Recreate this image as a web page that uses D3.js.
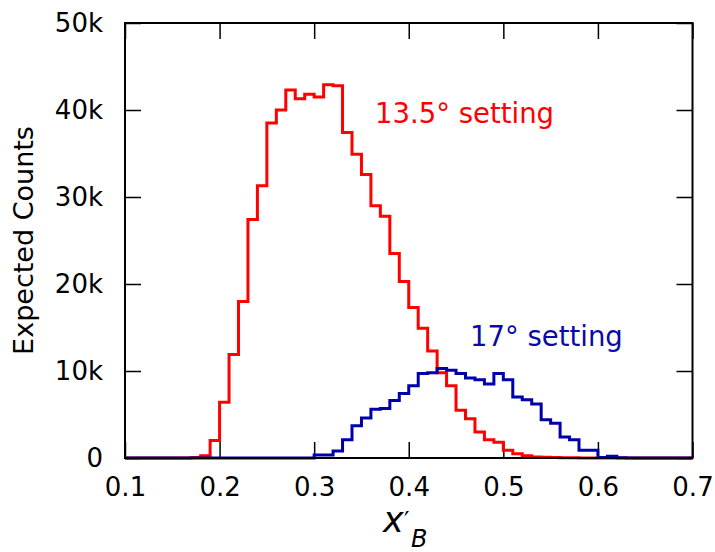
<!DOCTYPE html>
<html>
<head>
<meta charset="utf-8">
<script src="https://cdn.jsdelivr.net/npm/d3@7"></script>
<style>
    body { margin: 0; background: #fff; }
    svg { display: block; }
</style>
</head>
<body>
<div id="chart"></div>
<script>
// histogram bins: 60 bins of width 0.01 starting at x'_B = 0.1
const bin_start = 0.1
const bin_width = 0.01

// 13.5 degree setting, counts per bin
const counts_13_5 = [
    0, 0, 0, 0, 0, 0, 0, 50, 250, 2000,
    6400, 11900, 18000, 27400, 31300, 38500, 40000, 42300, 41300, 41800,
    41500, 42900, 42800, 37400, 34900, 32600, 29000, 27800, 23500, 20300,
    17300, 14900, 12300, 9800, 8300, 5500, 4500, 3000, 2100, 1800,
    900, 500, 250, 120, 80, 50, 30, 20, 10, 0,
    0, 0, 0, 0, 0, 0, 0, 0, 0, 0
]

// 17 degree setting, counts per bin
const counts_17 = [
    0, 0, 0, 0, 0, 0, 0, 0, 0, 0,
    0, 0, 0, 0, 0, 0, 0, 0, 0, 0,
    350, 350, 800, 2100, 3700, 4600, 5600, 5700, 6600, 7400,
    8300, 9700, 9800, 10300, 10100, 9700, 9200, 9000, 8500, 9700,
    9000, 7000, 6700, 6200, 4400, 4000, 2400, 2100, 900, 900,
    50, 200, 20, 0, 0, 0, 0, 0, 0, 0
]

const x_ticks = [0.1, 0.2, 0.3, 0.4, 0.5, 0.6, 0.7]
const y_ticks = [0, 10000, 20000, 30000, 40000, 50000]

const series_labels = ["13.5° setting", "17° setting"]

function build_chart() {
    const width = 715
    const height = 552
    const left = 125, right = 692.5, top = 23, bottom = 458
    const tick_len = 16

    const svg = d3.select("#chart")
        .append("svg")
        .attr("width", width)
        .attr("height", height)
        .attr("font-family", "'DejaVu Sans', sans-serif")

    const x = d3.scaleLinear().domain([0.1, 0.7]).range([left, right])
    const y = d3.scaleLinear().domain([0, 50000]).range([bottom, top])

    // bottom axis with labels, ticks pointing inside
    const x_axis = svg.append("g")
        .attr("transform", `translate(0, ${bottom})`)
        .call(d3.axisBottom(x).tickValues(x_ticks).tickSize(-tick_len).tickPadding(19.5).tickFormat(d3.format(".1f")))
    const y_axis = svg.append("g")
        .attr("transform", `translate(${left}, 0)`)
        .call(d3.axisLeft(y).tickValues(y_ticks).tickSize(-tick_len).tickPadding(22)
            .tickFormat(d => d == 0 ? "0" : (d / 1000) + "k"))
    // mirrored ticks on top and right
    const x_axis_top = svg.append("g")
        .attr("transform", `translate(0, ${top})`)
        .call(d3.axisTop(x).tickValues(x_ticks).tickSize(-tick_len).tickFormat(""))
    const y_axis_right = svg.append("g")
        .attr("transform", `translate(${right}, 0)`)
        .call(d3.axisRight(y).tickValues(y_ticks).tickSize(-tick_len).tickFormat(""))

    for (let ax of [x_axis, y_axis, x_axis_top, y_axis_right]) {
        ax.select(".domain").remove()
        ax.selectAll(".tick line").attr("stroke", "#000").attr("stroke-width", 1.5)
        ax.selectAll(".tick text")
            .attr("font-family", "'DejaVu Sans', sans-serif")
            .attr("font-size", 26)
            .attr("fill", "#000")
    }

    // step outlines
    function step_points(counts) {
        const pts = counts.map((c, i) => [bin_start + i * bin_width, c])
        pts.push([bin_start + counts.length * bin_width, counts[counts.length - 1]])
        return pts
    }
    const step_line = d3.line()
        .x(d => x(d[0]))
        .y(d => y(d[1]))
        .curve(d3.curveStepAfter)

    svg.append("path")
        .attr("d", step_line(step_points(counts_13_5)))
        .attr("fill", "none")
        .attr("stroke", "#ff0000")
        .attr("stroke-width", 3)
    svg.append("path")
        .attr("d", step_line(step_points(counts_17)))
        .attr("fill", "none")
        .attr("stroke", "#0000aa")
        .attr("stroke-width", 3)

    // frame
    svg.append("rect")
        .attr("x", left)
        .attr("y", top)
        .attr("width", right - left)
        .attr("height", bottom - top)
        .attr("fill", "none")
        .attr("stroke", "#000")
        .attr("stroke-width", 2)

    // series labels
    svg.append("text")
        .attr("x", 375)
        .attr("y", 123)
        .attr("font-size", 27.5)
        .attr("fill", "#ff0000")
        .text(series_labels[0])
    svg.append("text")
        .attr("x", 470)
        .attr("y", 346)
        .attr("font-size", 27.5)
        .attr("fill", "#0a0aa8")
        .text(series_labels[1])

    // axis titles
    svg.append("text")
        .attr("transform", `translate(33, ${(top + bottom) / 2}) rotate(-90)`)
        .attr("text-anchor", "middle")
        .attr("font-size", 27)
        .attr("fill", "#000")
        .text("Expected Counts")

    // x'_B: italic x, prime, subscript B set side by side
    const x_title = svg.append("text")
        .attr("x", 383)
        .attr("y", 532)
        .attr("font-size", 35)
        .attr("font-style", "italic")
        .attr("fill", "#000")
    x_title.append("tspan").text("x")
    x_title.append("tspan")
        .attr("x", 404)
        .attr("y", 529)
        .attr("font-size", 24)
        .attr("font-style", "normal")
        .text("′")
    x_title.append("tspan")
        .attr("x", 411)
        .attr("y", 547)
        .attr("font-size", 24)
        .text("B")
}

build_chart()
</script>
</body>
</html>
